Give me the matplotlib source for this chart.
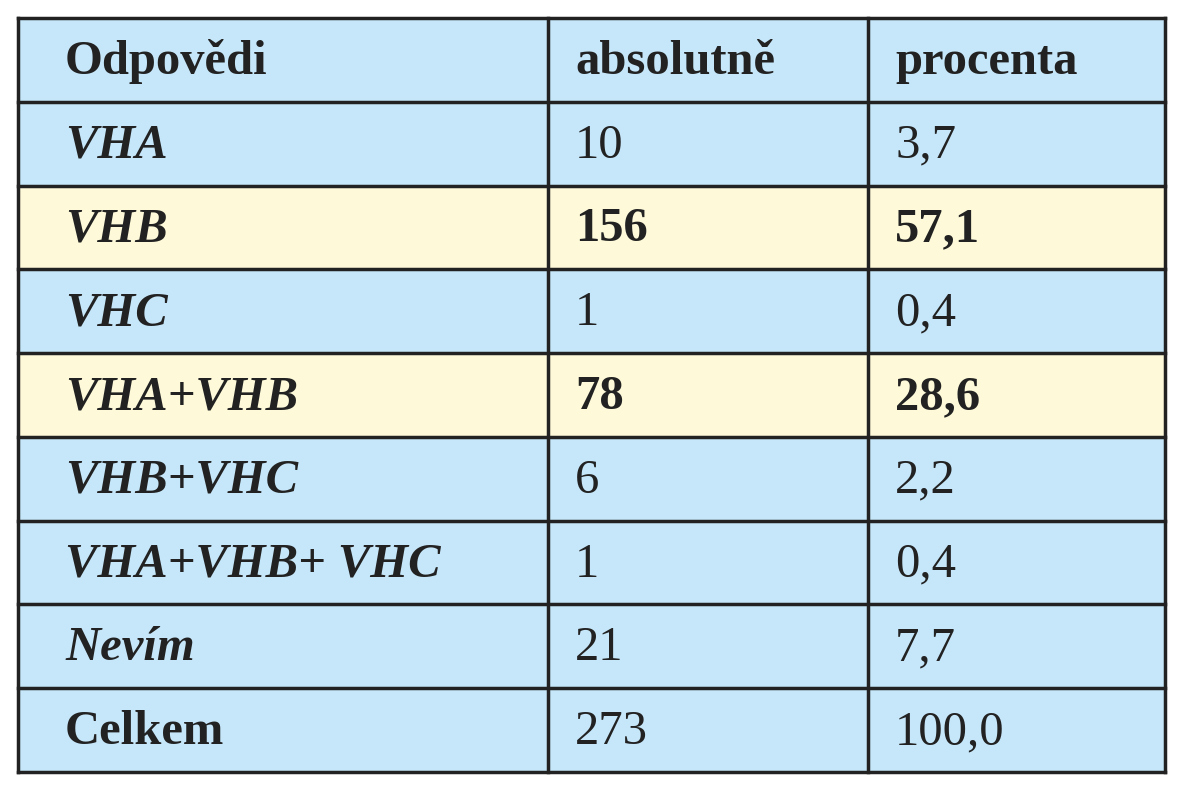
import matplotlib
matplotlib.use("Agg")
import matplotlib.pyplot as plt
from matplotlib.patches import Rectangle

headers = ["Odpovědi", "absolutně", "procenta"]
answers = ["VHA", "VHB", "VHC", "VHA+VHB", "VHB+VHC", "VHA+VHB+ VHC", "Nevím", "Celkem"]
counts = ["10", "156", "1", "78", "6", "1", "21", "273"]
percents = ["3,7", "57,1", "0,4", "28,6", "2,2", "0,4", "7,7", "100,0"]
highlight = [False, True, False, True, False, False, False, False]

BLUE = "#c6e7f9"
YELLOW = "#fdf9d9"
INK = "#222222"
col_x = [18, 548, 868, 1165]
top, bottom = 18, 772
n_rows = len(answers) + 1
row_h = (bottom - top) / n_rows
pad = 47

fig = plt.figure(figsize=(11.93, 8.0), dpi=100, facecolor="white")
ax = fig.add_axes([0, 0, 1, 1])
ax.set_xlim(0, 1193)
ax.set_ylim(800, 0)
ax.axis("off")
plt.rcParams["font.family"] = "Liberation Serif"

def row(i, cells, fill, styles, weights):
    y0 = top + i * row_h
    ax.add_patch(Rectangle((col_x[0], y0), col_x[-1] - col_x[0], row_h,
                           facecolor=fill, edgecolor="none"))
    for j, txt in enumerate(cells):
        ax.text(col_x[j] + (pad if j == 0 else 27), y0 + row_h / 2 + 2, txt,
                fontsize=35, va="center", ha="left", color=INK,
                fontstyle=styles[j], fontweight=weights[j])

row(0, headers, BLUE, ["normal"] * 3, ["bold"] * 3)
for i, (a, c, p, h) in enumerate(zip(answers, counts, percents, highlight), 1):
    last = i == len(answers)
    w = "bold" if h else "normal"
    row(i, [a, c, p], YELLOW if h else BLUE,
        ["normal" if last else "italic", "normal", "normal"],
        ["bold", w, w])

for k in range(n_rows + 1):
    y = top + k * row_h
    ax.plot([col_x[0], col_x[-1]], [y, y], color=INK, lw=2.5, solid_capstyle="projecting")
for x in col_x:
    ax.plot([x, x], [top, bottom], color=INK, lw=2.5, solid_capstyle="projecting")

fig.savefig("out.png", dpi=100, facecolor="white")
